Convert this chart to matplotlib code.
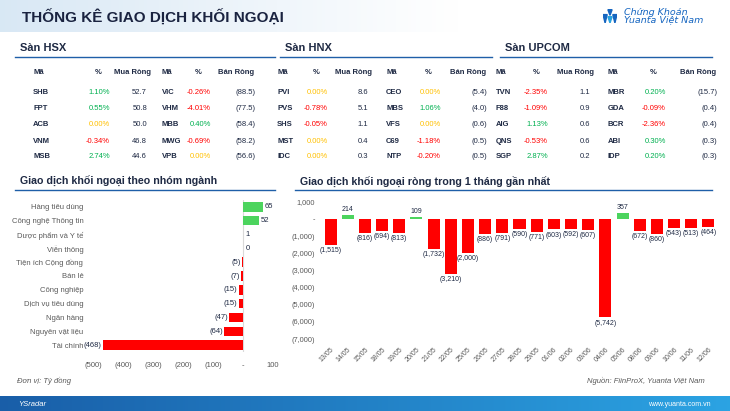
import numpy as np
import matplotlib
matplotlib.use('Agg')
import matplotlib.pyplot as plt
from matplotlib.patches import Polygon

plt.rcParams['font.family'] = ['Liberation Sans', 'DejaVu Sans']

W, H = 730, 411

# ---------------- data ----------------
hsx_buy_codes = ['SHB', 'FPT', 'ACB', 'VNM', 'MSB']
hsx_buy_pct = [1.10, 0.55, 0.00, -0.34, 2.74]
hsx_buy_val = [52.7, 50.8, 50.0, 46.8, 44.6]
hsx_sell_codes = ['VIC', 'VHM', 'MBB', 'MWG', 'VPB']
hsx_sell_pct = [-0.26, -4.01, 0.40, -0.69, 0.00]
hsx_sell_val = [-88.5, -77.5, -58.4, -58.2, -56.6]

hnx_buy_codes = ['PVI', 'PVS', 'SHS', 'MST', 'IDC']
hnx_buy_pct = [0.00, -0.78, -0.05, 0.00, 0.00]
hnx_buy_val = [8.6, 5.1, 1.1, 0.4, 0.3]
hnx_sell_codes = ['CEO', 'MBS', 'VFS', 'C69', 'NTP']
hnx_sell_pct = [0.00, 1.06, 0.00, -1.18, -0.20]
hnx_sell_val = [-5.4, -4.0, -0.6, -0.5, -0.5]

upc_buy_codes = ['TVN', 'F88', 'AIG', 'QNS', 'SGP']
upc_buy_pct = [-2.35, -1.09, 1.13, -0.53, 2.87]
upc_buy_val = [1.1, 0.9, 0.6, 0.6, 0.2]
upc_sell_codes = ['MBR', 'GDA', 'BCR', 'ABI', 'IDP']
upc_sell_pct = [0.20, -0.09, -2.36, 0.30, 0.20]
upc_sell_val = [-15.7, -0.4, -0.4, -0.3, -0.3]

sectors = ['Hàng tiêu dùng', 'Công nghệ Thông tin', 'Dược phẩm và Y tế', 'Viễn thông',
           'Tiện ích Cộng đồng', 'Bán lẻ', 'Công nghiệp', 'Dịch vụ tiêu dùng',
           'Ngân hàng', 'Nguyên vật liệu', 'Tài chính']
sector_vals = [65, 52, 1, 0, -5, -7, -15, -15, -47, -64, -468]

dates = ['13/05', '14/05', '15/05', '18/05', '19/05', '20/05', '21/05', '22/05',
         '25/05', '26/05', '27/05', '28/05', '29/05', '01/06', '02/06', '03/06',
         '04/06', '05/06', '08/06', '09/06', '10/06', '11/06', '12/06']
daily_net = [-1515, 214, -816, -694, -813, 109, -1732, -3210, -2000, -886, -791,
             -590, -771, -603, -592, -607, -5742, 357, -672, -860, -543, -513, -464]

# ---------------- helpers ----------------
NAVY = '#1f2a44'
GRAY = '#595959'
LINE = '#1f5fa8'
GREEN = '#4cd45e'
RED = '#ff0000'


def fx(x):
    return x / W


def fy(y):
    return 1 - y / H


def txt(x, y, s, **kw):
    fig.text(fx(x), fy(y), s, **kw)


def pct_color(p):
    if p > 0:
        return '#00b050'
    if p < 0:
        return '#ff0000'
    return '#ffc000'


def fmt_num(v):
    if v < 0:
        return '({:,.0f})'.format(-v)
    if v == 0:
        return '-'
    return '{:,.0f}'.format(v)


def fmt_val(v):
    return '({:.1f})'.format(-v) if v < 0 else '{:.1f}'.format(v)


fig = plt.figure(figsize=(W / 100, H / 100), dpi=100)

# header band
hax = fig.add_axes([0, fy(32), 1, 32 / H])
grad = np.linspace(0, 1, 256)[None, :]
g2 = np.clip(grad * 1.6, 0, 1)
hax.imshow(np.dstack([0.85 + 0.15 * g2, 0.91 + 0.09 * g2, 0.96 + 0.04 * g2]),
           aspect='auto', extent=[0, 1, 0, 1])
hax.axis('off')
txt(22, 18, 'THỐNG KÊ GIAO DỊCH KHỐI NGOẠI', fontsize=11, fontweight='bold',
    color='#1a2340', va='center')

# logo
lax = fig.add_axes([fx(603), fy(23), 14 / W, 14 / H])
lax.set_xlim(0, 1)
lax.set_ylim(0, 1)
lax.add_patch(Polygon([[0.35, 0.95], [0.65, 0.95], [0.5, 0.55]], color='#1565c0'))
lax.add_patch(Polygon([[0.0, 0.6], [0.3, 0.6], [0.15, 0.0]], color='#1565c0'))
lax.add_patch(Polygon([[0.7, 0.6], [1.0, 0.6], [0.85, 0.0]], color='#1565c0'))
lax.add_patch(Polygon([[0.35, 0.45], [0.65, 0.45], [0.5, 0.0]], color='#29a3e0'))
lax.axis('off')
txt(624, 12.5, 'Chứng Khoán', fontsize=6.8, style='italic', color='#1565c0',
    va='center', family='DejaVu Sans')
txt(624, 20.5, 'Yuanta Việt Nam', fontsize=6.8, style='italic', color='#1565c0',
    va='center', family='DejaVu Sans')

# footer band
fax = fig.add_axes([0, 0, 1, 15 / H])
fax.imshow(np.dstack([0.10 + 0.07 * grad, 0.37 + 0.27 * grad, 0.66 + 0.23 * grad]),
           aspect='auto', extent=[0, 1, 0, 1])
fax.axis('off')
txt(18, 404, 'YSradar', fontsize=5.5, style='italic', color='white', va='center')
txt(711, 404, 'www.yuanta.com.vn', fontsize=5, color='white', va='center', ha='right')


def section(x0, x1, y, title, fs):
    txt(x0 + 5, y, title, fontsize=fs, fontweight='bold', color=NAVY, va='center')
    fig.add_artist(plt.Line2D([fx(x0), fx(x1)], [fy(y + 9), fy(y + 9)],
                              color=LINE, lw=1.0))


section(15, 275, 48, 'Sàn HSX', 8)
section(280, 492, 48, 'Sàn HNX', 8)
section(500, 712, 48, 'Sàn UPCOM', 8)
section(15, 275, 181, 'Giao dịch khối ngoại theo nhóm ngành', 7.7)
section(295, 712, 181, 'Giao dịch khối ngoại ròng trong 1 tháng gần nhất', 7.7)

row_y = [92, 108, 124, 141, 157]


def table(cols, bc, bp, bv, sc, sp, sv):
    # cols: x positions of code, pct, value (buy side then sell side)
    c1, p1, v1, c2, p2, v2 = cols
    fs = 5.5
    txt(c1, 72, 'Mã', fontsize=fs, fontweight='bold', color=NAVY, va='center')
    txt(p1, 72, '%', fontsize=fs, fontweight='bold', color=NAVY, va='center', ha='right')
    txt(v1, 72, 'Mua Ròng', fontsize=fs, fontweight='bold', color=NAVY, va='center', ha='right')
    txt(c2, 72, 'Mã', fontsize=fs, fontweight='bold', color=NAVY, va='center')
    txt(p2, 72, '%', fontsize=fs, fontweight='bold', color=NAVY, va='center', ha='right')
    txt(v2, 72, 'Bán Ròng', fontsize=fs, fontweight='bold', color=NAVY, va='center', ha='right')
    for i, y in enumerate(row_y):
        txt(c1, y, bc[i], fontsize=fs, fontweight='bold', color=NAVY, va='center')
        txt(p1 + 8, y, '{:.2f}%'.format(bp[i]), fontsize=fs, color=pct_color(bp[i]),
            va='center', ha='right')
        txt(v1 - 4, y, fmt_val(bv[i]), fontsize=fs, color=NAVY, va='center', ha='right')
        txt(c2, y, sc[i], fontsize=fs, fontweight='bold', color=NAVY, va='center')
        txt(p2 + 9, y, '{:.2f}%'.format(sp[i]), fontsize=fs, color=pct_color(sp[i]),
            va='center', ha='right')
        txt(v2 + 1, y, fmt_val(sv[i]), fontsize=fs, color=NAVY, va='center', ha='right')


table((33, 102, 151, 162, 202, 254), hsx_buy_codes, hsx_buy_pct, hsx_buy_val,
      hsx_sell_codes, hsx_sell_pct, hsx_sell_val)
table((277, 320, 372, 386, 432, 486), hnx_buy_codes, hnx_buy_pct, hnx_buy_val,
      hnx_sell_codes, hnx_sell_pct, hnx_sell_val)
table((496, 540, 594, 608, 657, 716), upc_buy_codes, upc_buy_pct, upc_buy_val,
      upc_sell_codes, upc_sell_pct, upc_sell_val)

# ---------------- sector chart ----------------
ax1 = fig.add_axes([fx(93), fy(352), 180 / W, 152 / H])
ypos = np.arange(len(sectors))
cols1 = [GREEN if v >= 0 else RED for v in sector_vals]
ax1.barh(ypos, sector_vals, height=0.68, color=cols1)
ax1.set_xlim(-500, 100)
ax1.set_ylim(len(sectors) - 0.5, -0.5)
ax1.set_yticks(ypos)
ax1.set_yticklabels(sectors, fontsize=5.5, color=GRAY)
xt = [-500, -400, -300, -200, -100, 0, 100]
ax1.set_xticks(xt)
ax1.set_xticklabels([fmt_num(v) for v in xt], fontsize=5.5, color=GRAY)
ax1.tick_params(length=0, pad=7)
for s in ax1.spines.values():
    s.set_visible(False)
ax1.axvline(0, color='#d9d9d9', lw=0.8, zorder=0)
for y, v in zip(ypos, sector_vals):
    if v >= 0:
        ax1.text(v + 8, y, fmt_num(v) if v != 0 else '0', fontsize=5.5, color=NAVY,
                 va='center', ha='left')
    else:
        ax1.text(v - 3, y, fmt_num(v), fontsize=5.5, color=NAVY, va='center', ha='right')

# ---------------- monthly chart ----------------
ax2 = fig.add_axes([fx(322), fy(339), 395 / W, 137 / H])
xpos = np.arange(len(dates))
cols2 = [GREEN if v >= 0 else RED for v in daily_net]
ax2.bar(xpos, daily_net, width=0.7, color=cols2)
ax2.set_xlim(-0.5, len(dates) - 0.5)
ax2.set_ylim(-7000, 1000)
yt = list(range(-7000, 1001, 1000))
ax2.set_yticks(yt)
ax2.set_yticklabels([fmt_num(v) for v in yt], fontsize=5.3, color=GRAY)
ax2.set_xticks(xpos)
ax2.set_xticklabels(dates, fontsize=5, color=GRAY, rotation=45, ha='right',
                    rotation_mode='anchor')
ax2.tick_params(length=0, pad=5)
for s in ax2.spines.values():
    s.set_visible(False)
for x, v in zip(xpos, daily_net):
    if v >= 0:
        ax2.text(x, v + 120, fmt_num(v), fontsize=5, color=NAVY, va='bottom', ha='center')
    else:
        ax2.text(x, v - 120, fmt_num(v), fontsize=5, color=NAVY, va='top', ha='center')

# notes
txt(17, 381, 'Đơn vị: Tỷ đồng', fontsize=5.5, style='italic', color=GRAY, va='center')
txt(705, 381, 'Nguồn: FiinProX, Yuanta Việt Nam', fontsize=5.5, style='italic',
    color=GRAY, va='center', ha='right')

fig.savefig('out.png', dpi=100)
